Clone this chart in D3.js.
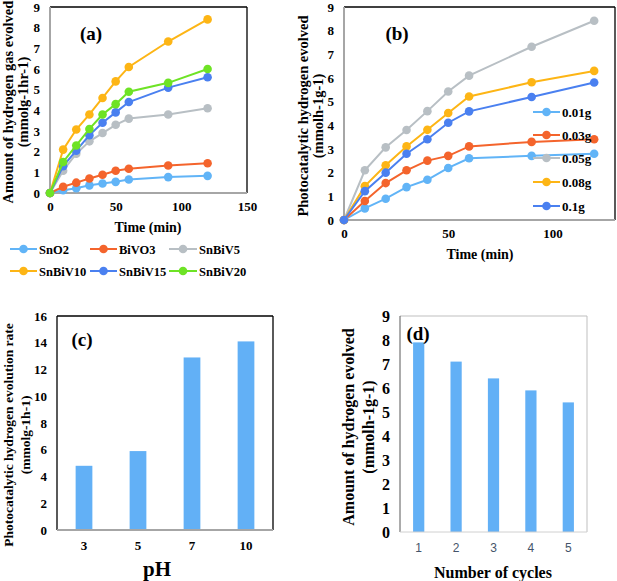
<!DOCTYPE html>
<html><head><meta charset="utf-8">
<script src="https://cdn.jsdelivr.net/npm/d3@7"></script>
<style>
html,body{margin:0;padding:0;background:#fff;}
svg{display:block;font-family:"Liberation Serif","Times New Roman",serif;font-weight:bold;}
</style></head>
<body>
<svg id="c" width="617" height="581"></svg>
<script>
// ---------- DATA ----------
const timesA = [0,10,20,30,40,50,60,90,120];
const seriesNamesA = ["SnO2","BiVO3","SnBiV5","SnBiV10","SnBiV15","SnBiV20"];
const sno2    = [0,0.13,0.23,0.37,0.46,0.54,0.65,0.77,0.83];
const bivo3   = [0,0.30,0.50,0.70,0.88,1.08,1.17,1.33,1.44];
const snbiv5  = [0,1.08,1.90,2.50,2.90,3.30,3.60,3.80,4.10];
const snbiv10 = [0,2.10,3.07,3.80,4.60,5.40,6.10,7.33,8.40];
const snbiv15 = [0,1.30,2.05,2.80,3.40,3.90,4.40,5.10,5.60];
const snbiv20 = [0,1.50,2.30,3.10,3.80,4.30,4.90,5.33,6.00];
const colorsA = ["#61b4f7","#f4642c","#b8bfc4","#fdb515","#4a80f0","#6ee325"];

const timesB = [0,10,20,30,40,50,60,90,120];
const seriesNamesB = ["0.01g","0.03g","0.05g","0.08g","0.1g"];
const g001 = [0,0.49,0.90,1.39,1.70,2.20,2.61,2.71,2.80];
const g003 = [0,0.80,1.56,2.10,2.51,2.71,3.11,3.30,3.41];
const g005 = [0,2.10,3.07,3.80,4.60,5.43,6.10,7.32,8.42];
const g008 = [0,1.43,2.31,3.11,3.81,4.52,5.22,5.82,6.30];
const g01  = [0,1.22,2.00,2.80,3.41,4.11,4.59,5.20,5.81];
const colorsB = ["#61b4f7","#f4642c","#b8bfc4","#fdb515","#4a80f0"];

const pHCats = ["3","5","7","10"];
const pHVals = [4.8,5.9,12.9,14.1];

const cycleCats = ["1","2","3","4","5"];
const cycleVals = [7.9,7.1,6.4,5.9,5.4];

const ticksA_y = [0,1,2,3,4,5,6,7,8,9];
const ticksA_x = [0,50,100,150];
const ticksB_y = [0,1,2,3,4,5,6,7,8,9];
const ticksB_x = [0,50,100];
const ticksC_y = [0,2,4,6,8,10,12,14,16];
const ticksD_y = [0,1,2,3,4,5,6,7,8,9];

// ---------- DRAW ----------
const svg = d3.select("#c");
const axisGray = "#a6a6a6";
const barColor = "#62b0f6";

function styleAxis(g, fs, color, weight, family){
  g.select(".domain").remove();
  g.selectAll("text").attr("font-size", fs).attr("fill", color || "#000")
   .attr("font-family", family || "Liberation Serif, serif").attr("font-weight", weight || "bold");
}
function hline(x1,x2,y,c,w){svg.append("line").attr("x1",x1).attr("x2",x2).attr("y1",y).attr("y2",y).attr("stroke",c).attr("stroke-width",w);}
function vline(x,y1,y2,c,w){svg.append("line").attr("x1",x).attr("x2",x).attr("y1",y1).attr("y2",y2).attr("stroke",c).attr("stroke-width",w);}
function txt(x,y,s,fs,anchor,rot){
  const t = svg.append("text").attr("font-size",fs).attr("text-anchor",anchor||"middle").text(s);
  if(rot) t.attr("transform",`translate(${x},${y}) rotate(-90)`); else t.attr("x",x).attr("y",y);
  return t;
}

function linePanel(o){
  const x = d3.scaleLinear().domain(o.xd).range([o.l,o.r]);
  const y = d3.scaleLinear().domain(o.yd).range([o.b,o.t]);
  hline(o.l,o.r,o.t,"#000",1.3);
  vline(o.r,o.t,o.b,"#000",1.3);
  vline(o.l,o.t,o.b,axisGray,2);
  hline(o.l,o.r,o.b,axisGray,2);
  const ya = svg.append("g").attr("transform",`translate(${o.l},0)`)
    .call(d3.axisLeft(y).tickValues(o.yt).tickSize(0).tickPadding(o.ypad));
  styleAxis(ya, 13);
  const xa = svg.append("g").attr("transform",`translate(0,${o.b})`)
    .call(d3.axisBottom(x).tickValues(o.xt).tickSize(0).tickPadding(9));
  styleAxis(xa, 13);
  const line = d3.line().x((d,i)=>x(o.times[i])).y(d=>y(d));
  o.series.forEach((s,k)=>{
    svg.append("path").attr("d",line(s)).attr("fill","none").attr("stroke",o.colors[k]).attr("stroke-width",2);
    svg.append("g").selectAll("circle").data(s).join("circle")
      .attr("cx",(d,i)=>x(o.times[i])).attr("cy",d=>y(d)).attr("r",4.3).attr("fill",o.colors[k]);
  });
}

function legendItem(x1,x2,y,color,label,fs){
  hline(x1,x2,y,color,2);
  svg.append("circle").attr("cx",(x1+x2)/2).attr("cy",y).attr("r",4.3).attr("fill",color);
  txt(x2+2,y+4.5,label,fs,"start");
}

// Panel (a)
linePanel({l:50,r:247,t:7,b:193,xd:[0,150],yd:[0,9],yt:ticksA_y,xt:ticksA_x,ypad:10,
  times:timesA,series:[sno2,bivo3,snbiv5,snbiv10,snbiv15,snbiv20],colors:colorsA});
txt(91,40,"(a)",19);
txt(148,232,"Time (min)",14);
txt(13,102,"Amount of hydrogen gas evolved",14.5,"middle",true);
txt(28,102,"(mmolg-1hr-1)",14.5,"middle",true);
const legXs = [[10,37],[90,117],[169,197]];
seriesNamesA.forEach((n,i)=>{
  const c = legXs[i%3]; const y = i<3 ? 249 : 271;
  legendItem(c[0],c[1],y,colorsA[i],n,12.5);
});

// Panel (b)
linePanel({l:344,r:615,t:7,b:220,xd:[0,130],yd:[0,9],yt:ticksB_y,xt:ticksB_x,ypad:10,
  times:timesB,series:[g001,g003,g005,g008,g01],colors:colorsB});
txt(397,40,"(b)",19);
txt(480,259,"Time (min)",14);
txt(308,116,"Photocatalytic hydrogen evolved",14.5,"middle",true);
txt(323,116,"(mmolh-1g-1)",14.5,"middle",true);
const legYB = [112,135,158,182,206];
seriesNamesB.forEach((n,i)=>legendItem(533,560,legYB[i],colorsB[i],n,13));

// Panel (c)
{
  const l=57,r=273,t=316,b=530;
  const x = d3.scaleBand().domain(pHCats).range([l,r]).padding(0);
  const y = d3.scaleLinear().domain([0,16]).range([b,t]);
  hline(l,r,t,"#000",1.3); vline(r,t,b,"#000",1.3);
  vline(l,t,b,"#000",1.3);
  const bw = x.bandwidth()*0.31;
  svg.append("g").selectAll("rect").data(pHVals).join("rect")
    .attr("x",(d,i)=>x(pHCats[i])+x.bandwidth()/2-bw/2).attr("width",bw)
    .attr("y",d=>y(d)).attr("height",d=>b-y(d)).attr("fill",barColor);
  hline(l,r,b,axisGray,2);
  const ya = svg.append("g").attr("transform",`translate(${l},0)`)
    .call(d3.axisLeft(y).tickValues(ticksC_y).tickSize(0).tickPadding(10));
  styleAxis(ya,13);
  const xa = svg.append("g").attr("transform",`translate(0,${b})`)
    .call(d3.axisBottom(x).tickSize(0).tickPadding(11));
  styleAxis(xa,13);
  txt(82,346,"(c)",19);
  txt(157,576,"pH",21);
  txt(13,435,"Photocatalytic hydrogen evolution rate",13.5,"middle",true);
  txt(30,435,"(mmolg-1h-1)",13.5,"middle",true);
}

// Panel (d)
{
  const l=400,r=587,t=316,b=532;
  const x = d3.scaleBand().domain(cycleCats).range([l,r]).padding(0);
  const y = d3.scaleLinear().domain([0,9]).range([b,t]);
  hline(l,r,t,"#bfbfbf",1); vline(r,t,b,"#bfbfbf",1);
  vline(l,t,b,"#595959",1);
  const bw = x.bandwidth()*0.3;
  svg.append("g").selectAll("rect").data(cycleVals).join("rect")
    .attr("x",(d,i)=>x(cycleCats[i])+x.bandwidth()/2-bw/2).attr("width",bw)
    .attr("y",d=>y(d)).attr("height",d=>b-y(d)).attr("fill",barColor);
  hline(l,r,b,"#d0d0d0",1);
  const ya = svg.append("g").attr("transform",`translate(${l},0)`)
    .call(d3.axisLeft(y).tickValues(ticksD_y).tickSize(0).tickPadding(10));
  styleAxis(ya,16);
  const xa = svg.append("g").attr("transform",`translate(0,${b})`)
    .call(d3.axisBottom(x).tickSize(0).tickPadding(11));
  styleAxis(xa,12,"#44546a","normal","Liberation Sans, sans-serif");
  txt(418,340,"(d)",19);
  txt(493,578,"Number of cycles",16);
  txt(354,427,"Amount of hydrogen evolved",16,"middle",true);
  txt(374,427,"(mmolh-1g-1)",16,"middle",true);
}
</script></body></html>
